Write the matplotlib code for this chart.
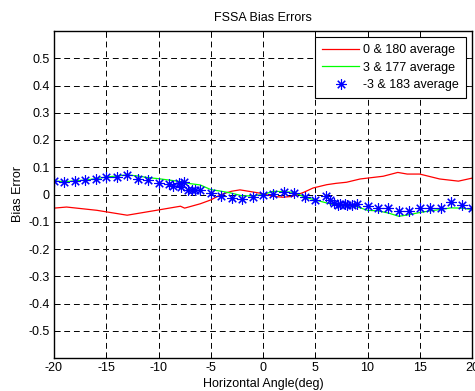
import matplotlib
matplotlib.use("Agg")
import matplotlib.pyplot as plt

plt.rcParams['font.family'] = ['Liberation Sans', 'DejaVu Sans']

# Red: 0 & 180 average
red_x = [-20, -18.8, -15.9, -13.0, -10.2, -7.9, -7.5, -6.0, -5.0, -4.0, -3.0, -2.2,
         -0.3, 1.0, 1.9, 2.8, 3.9, 4.8, 6.1, 7.0, 8.0, 9.3, 11.5, 12.9, 13.8, 15.0,
         16.9, 18.7, 20.0]
red_y = [-0.050, -0.046, -0.058, -0.076, -0.058, -0.043, -0.050, -0.034, -0.020, 0.000,
         0.012, 0.017, 0.005, -0.007, -0.010, -0.007, 0.008, 0.024, 0.036, 0.041, 0.045,
         0.057, 0.067, 0.081, 0.075, 0.075, 0.057, 0.049, 0.060]

# Green: 3 & 177 average
green_x = list(range(-20, 21))
green_y = [0.050, 0.047, 0.050, 0.053, 0.058, 0.064, 0.068, 0.072, 0.068, 0.062,
           0.058, 0.053, 0.048, 0.040, 0.035, 0.018, 0.012, 0.005, -0.005, -0.005,
           0.000, 0.012, 0.010, 0.008, -0.010, -0.020, -0.030, -0.040, -0.042, -0.045,
           -0.058, -0.060, -0.068, -0.080, -0.074, -0.066, -0.060, -0.055, -0.049, -0.050,
           -0.055]

# Blue stars: -3 & 183 average
star_x = [-20, -19, -18, -17, -16, -15, -14, -13, -12, -11, -10, -9, -8.6, -8.0, -7.6,
          -7.8, -7.2, -6.8, -6.5, -6.0, -5, -4, -3, -2, -1, 0, 1, 2, 3, 4, 5, 6, 6.4,
          6.8, 7.2, 7.4, 7.8, 8.0, 8.5, 9, 10, 11, 12, 13, 14, 15, 16, 17, 18, 19, 20]
star_y = [0.051, 0.045, 0.050, 0.052, 0.056, 0.065, 0.066, 0.072, 0.057, 0.055, 0.044,
          0.038, 0.030, 0.044, 0.047, 0.029, 0.015, 0.018, 0.018, 0.015, 0.005, -0.004,
          -0.013, -0.016, -0.010, 0.000, 0.002, 0.011, 0.006, -0.010, -0.019, -0.006,
          -0.022, -0.032, -0.040, -0.034, -0.034, -0.040, -0.040, -0.034, -0.044, -0.049,
          -0.049, -0.061, -0.061, -0.050, -0.050, -0.050, -0.028, -0.038, -0.049]

xticks = [-20, -15, -10, -5, 0, 5, 10, 15, 20]
yticks = [-0.5, -0.4, -0.3, -0.2, -0.1, 0, 0.1, 0.2, 0.3, 0.4, 0.5]
ytick_labels = ['-0.5', '-0.4', '-0.3', '-0.2', '-0.1', '0', '0.1', '0.2', '0.3', '0.4', '0.5']

fig = plt.figure(figsize=(4.75, 3.91), dpi=100)
ax = fig.add_axes([54/475, 33/391, 418/475, 327/391])

ax.plot(red_x, red_y, color='#ff0000', lw=0.9, label='0 & 180 average')
ax.plot(green_x, green_y, color='#00ff00', lw=0.9, label='3 & 177 average')
ax.plot(star_x, star_y, linestyle='none', marker=(8, 2, 0), markersize=7.5,
        markeredgewidth=0.8, color='#0000ff', label='-3 & 183 average')

ax.set_xlim(-20, 20)
ax.set_ylim(-0.6, 0.6)
ax.set_xticks(xticks)
ax.set_xticklabels([str(t) for t in xticks])
ax.set_yticks(yticks)
ax.set_yticklabels(ytick_labels)
ax.tick_params(direction='in', top=True, right=True, labelsize=9, length=4, width=0.6, pad=3)
ax.grid(True, color='black', linestyle=(0, (6, 4)), linewidth=0.7)
for s in ax.spines.values():
    s.set_linewidth(1.0)
    s.set_color('black')

ax.set_title('FSSA Bias Errors', fontsize=9, pad=7)
ax.set_xlabel('Horizontal Angle(deg)', fontsize=9, labelpad=2.5)
ax.set_ylabel('Bias Error', fontsize=9, labelpad=3)

leg = ax.legend(loc='upper right', fontsize=9, frameon=True, fancybox=False,
                framealpha=1, edgecolor='black', borderaxespad=0.5,
                handlelength=3.0, handletextpad=0.3, labelspacing=0.45, borderpad=0.55)
leg.get_frame().set_linewidth(0.8)

fig.savefig('out.png', dpi=100)
